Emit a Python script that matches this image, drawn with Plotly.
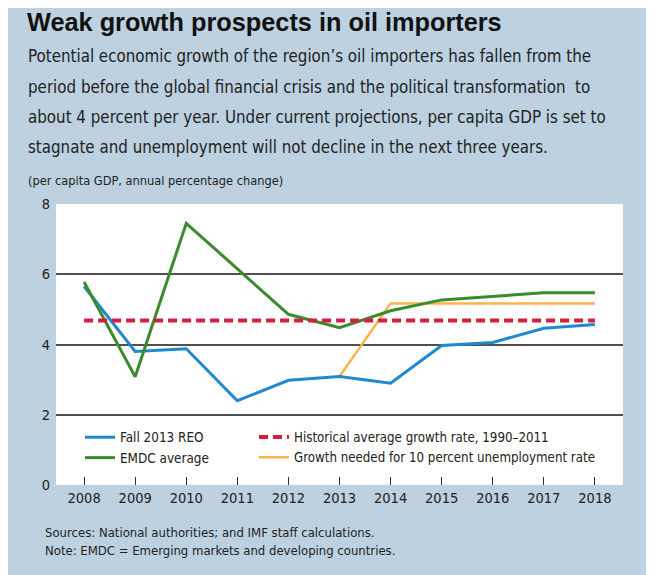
import plotly.graph_objects as go

years = [2008, 2009, 2010, 2011, 2012, 2013, 2014, 2015, 2016, 2017, 2018]
fall_2013_reo = [5.65, 3.8, 3.88, 2.4, 2.98, 3.09, 2.9, 3.97, 4.06, 4.46, 4.57]
emdc_average = [5.78, 3.08, 7.45, 6.15, 4.86, 4.48, 4.96, 5.27, 5.37, 5.47, 5.47]
growth_needed_years = [2013, 2014, 2015, 2016, 2017, 2018]
growth_needed = [3.09, 5.17, 5.17, 5.17, 5.17, 5.17]
historical_years = [2008, 2018]
historical_avg = [4.68, 4.68]
y_ticks = [0, 2, 4, 6, 8]
grid_vals = [2, 4, 6]

title = "Weak growth prospects in oil importers"
body = [
    "Potential economic growth of the region\u2019s oil importers has fallen from the",
    "period before the global financial crisis and the political transformation  to",
    "about 4 percent per year. Under current projections, per capita GDP is set to",
    "stagnate and unemployment will not decline in the next three years.",
]
units = "(per capita GDP, annual percentage change)"
notes = [
    "Sources: National authorities; and IMF staff calculations.",
    "Note: EMDC = Emerging markets and developing countries.",
]

# figure pixel coordinates (page shows the figure offset by the 8px body margin)
W, H = 654, 575
PL, PR, PT, PB = 48, 615, 196, 477
FONT = "DejaVu Sans Condensed, Arial Narrow, sans-serif"
PANEL = "#bdd1e0"


def xp(px):
    return (px - PL) / (PR - PL)


def yp(py):
    return (PB - py) / (PB - PT)


fig = go.Figure()
fig.add_trace(go.Scatter(x=growth_needed_years, y=growth_needed, mode="lines",
                         name="Growth needed for 10 percent unemployment rate",
                         line=dict(color="#fbb24a", width=2.5), legend="legend2", legendrank=2))
fig.add_trace(go.Scatter(x=years, y=fall_2013_reo, mode="lines", name="Fall 2013 REO",
                         line=dict(color="#1f88d0", width=3), legend="legend", legendrank=1))
fig.add_trace(go.Scatter(x=years, y=emdc_average, mode="lines", name="EMDC average",
                         line=dict(color="#3b8a2e", width=3), legend="legend", legendrank=2))
fig.add_trace(go.Scatter(x=historical_years, y=historical_avg, mode="lines",
                         name="Historical average growth rate, 1990\u20132011",
                         line=dict(color="#d31f3d", width=4, dash="9px,5px"),
                         legend="legend2", legendrank=1))
# overlay axis that only carries the interior gridlines
fig.add_trace(go.Scatter(x=[years[0]], y=[grid_vals[0]], yaxis="y2", mode="markers",
                         marker=dict(opacity=0), showlegend=False, hoverinfo="skip"))

annotations = [
    dict(text="<b>" + title + "</b>", x=xp(17), y=yp(14), xanchor="left", yanchor="middle",
         font=dict(family="Liberation Sans, Arial, sans-serif", size=25.3, color="#111111")),
    dict(text=units, x=xp(18), y=yp(172), xanchor="left", yanchor="middle",
         font=dict(family=FONT, size=12.7, color="#222222")),
]
for i, line in enumerate(body):
    annotations.append(dict(text=line, x=xp(18), y=yp(48 + i * 30.5), xanchor="left",
                            yanchor="middle", font=dict(family=FONT, size=16.8, color="#222222")))
for i, line in enumerate(notes):
    annotations.append(dict(text=line, x=xp(35), y=yp(524 + i * 18.5), xanchor="left",
                            yanchor="middle", font=dict(family=FONT, size=13, color="#222222")))
for a in annotations:
    a.update(xref="paper", yref="paper", showarrow=False)

fig.update_layout(
    width=W, height=H,
    margin=dict(l=PL, r=W - PR, t=PT, b=H - PB, pad=0),
    paper_bgcolor=PANEL, plot_bgcolor="white",
    font=dict(family=FONT, size=14, color="#222222"),
    annotations=annotations,
    xaxis=dict(range=[2007.45, 2018.55], tickvals=years, ticks="inside", ticklen=8,
               tickcolor="#333333", tickwidth=1, showgrid=False, zeroline=False,
               showline=False, tickfont=dict(size=14.5), ticklabelstandoff=2),
    yaxis=dict(range=[0, 8], tickvals=y_ticks, showgrid=False, zeroline=False, showline=False,
               ticks="", tickfont=dict(size=14.5), ticklabelstandoff=5),
    yaxis2=dict(range=[0, 8], overlaying="y", tickvals=grid_vals, showgrid=True,
                gridcolor="#505050", gridwidth=1.5, showticklabels=False, zeroline=False,
                showline=False, ticks=""),
    legend=dict(x=xp(72), y=yp(414), xanchor="left", yanchor="top", bgcolor="rgba(0,0,0,0)",
                font=dict(size=13.4), tracegroupgap=0, itemwidth=30),
    legend2=dict(x=xp(246), y=yp(414), xanchor="left", yanchor="top", bgcolor="rgba(0,0,0,0)",
                 font=dict(size=13.2), tracegroupgap=0, itemwidth=30),
    showlegend=True,
)

fig.write_html("out.html")
